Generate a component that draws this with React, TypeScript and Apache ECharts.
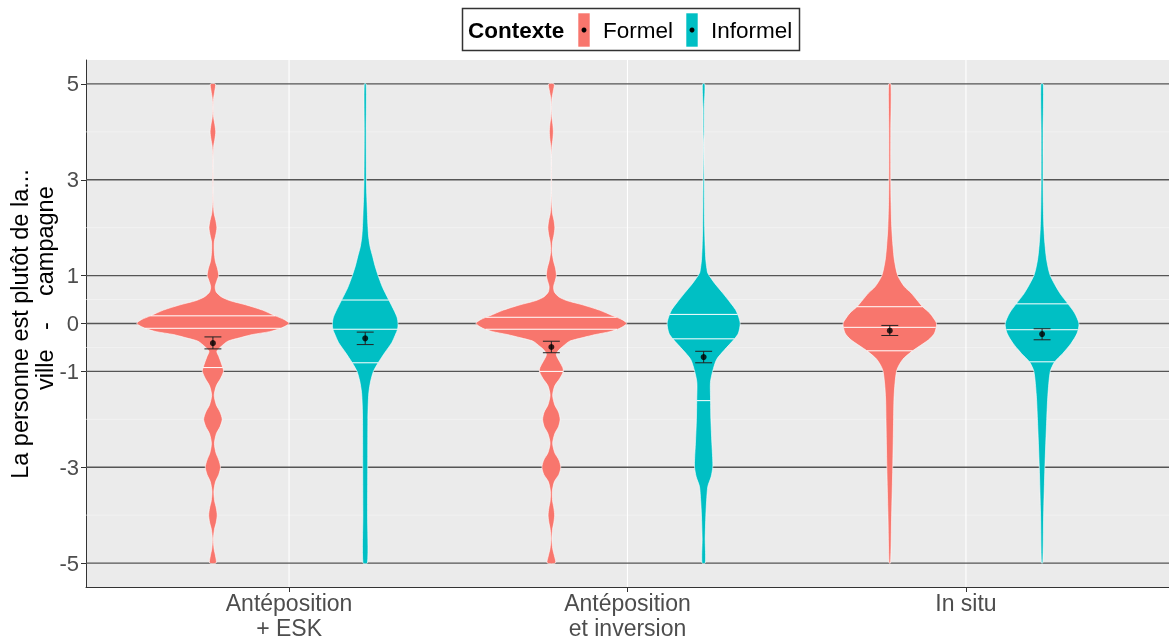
import React, { useEffect, useRef } from "react";
import * as echarts from "echarts";

const categories = ["Antéposition\n+ ESK", "Antéposition\net inversion", "In situ"];
const groupNames = ["Formel", "Informel"];
const groupColors = ["#F8766D", "#00BFC4"];
const yMajorBreaks = [-5, -3, -1, 0, 1, 3, 5];
const yMinorBreaks = [-4, -2, -0.5, 0.5, 2, 4];
const xBreaks = [1, 2, 3];

// density profiles: [y, relative width] (100 = widest violin)
const formelDensityESK = [
  [-5, 4.3], [-4.85, 3.4], [-4.7, 1.5], [-4.5, 0.7], [-4.3, 2], [-4.15, 4.4], [-4, 5.6], [-3.85, 4.4], [-3.7, 2.2],
  [-3.5, 1.3], [-3.3, 3.5], [-3.15, 7.8], [-3, 10], [-2.85, 7.8], [-2.7, 4], [-2.5, 2], [-2.3, 4.5], [-2.15, 9.5],
  [-2, 12.2], [-1.85, 9.5], [-1.7, 4.5], [-1.5, 1.7], [-1.3, 4.5], [-1.15, 10], [-1, 14], [-0.95, 13.5], [-0.82, 10.8],
  [-0.69, 7.8], [-0.58, 5.2], [-0.48, 10.8], [-0.37, 19.6], [-0.3, 35], [-0.23, 52], [-0.17, 74.5], [-0.1, 89], [0, 100],
  [0.08, 94], [0.16, 82], [0.28, 65], [0.39, 43], [0.48, 21.8], [0.56, 10.8], [0.66, 4.3], [0.77, 3], [0.91, 5.6],
  [1, 7.6], [1.15, 6], [1.3, 3.2], [1.5, 1.8], [1.7, 1.8], [1.85, 3.8], [2, 5.2], [2.15, 3.8], [2.3, 1.6], [2.5, 0.6],
  [2.75, 0.2], [3, 0.4], [3.25, 0.2], [3.5, 0.3], [3.7, 1], [3.85, 2.6], [4, 3.7], [4.15, 2.6], [4.3, 1], [4.5, 0.3],
  [4.7, 0.9], [4.85, 2.4], [5, 3.3],
];
const formelDensityInv = [
  [-5, 5.5], [-4.85, 4], [-4.7, 1.8], [-4.5, 0.7], [-4.3, 1.5], [-4.15, 3.3], [-4, 4.3], [-3.85, 3.3], [-3.7, 1.6],
  [-3.5, 1.3], [-3.3, 4], [-3.15, 10], [-3, 12.4], [-2.85, 10], [-2.7, 4.5], [-2.5, 1.7], [-2.3, 4.5], [-2.15, 9.5],
  [-2, 11.5], [-1.85, 9.5], [-1.7, 4.5], [-1.5, 1.7], [-1.3, 4.5], [-1.15, 11], [-1, 15.7], [-0.92, 15], [-0.8, 11],
  [-0.65, 6.5], [-0.55, 10], [-0.48, 15], [-0.37, 24], [-0.3, 40], [-0.23, 58], [-0.17, 77], [-0.1, 90], [0, 99],
  [0.08, 93], [0.16, 81], [0.28, 63], [0.39, 41], [0.48, 20], [0.56, 9.5], [0.66, 4], [0.77, 3], [0.9, 5.2],
  [1, 6.6], [1.15, 5.5], [1.3, 3], [1.5, 1], [1.7, 1.6], [1.85, 3.5], [2, 4.6], [2.15, 3.5], [2.3, 1.5], [2.5, 0.6],
  [2.75, 0.2], [3, 0.3], [3.25, 0.2], [3.5, 0.2], [3.7, 0.8], [3.85, 2], [4, 2.6], [4.15, 2], [4.3, 0.8], [4.5, 0.3],
  [4.7, 0.8], [4.85, 2.5], [5, 3.7],
];
const formelDensitySitu = [
  [-5, 1], [-4, 2.4], [-3, 3.9], [-2, 5], [-1.58, 5.5], [-1.24, 6.9], [-0.96, 9.5], [-0.75, 17], [-0.57, 30],
  [-0.34, 51], [-0.2, 58.8], [0, 61.4], [0.11, 57.5], [0.22, 52.3], [0.35, 43.1], [0.49, 35.7], [0.64, 27.8],
  [0.77, 19.2], [1, 10.5], [1.32, 6.1], [1.6, 4.3], [2, 2.6], [2.5, 1.7], [3, 1.3], [4, 1.3], [5, 1.6],
];
const informelDensityESK = [
  [-5, 3], [-4, 3.1], [-3, 3.3], [-2, 3.5], [-1.7, 3.9], [-1.44, 4.8], [-1.2, 7.2], [-1, 10.8], [-0.82, 17],
  [-0.6, 26.1], [-0.4, 34.9], [-0.25, 39.2], [-0.12, 42.5], [0, 43.1], [0.12, 42], [0.25, 38.6], [0.5, 30.7],
  [0.75, 22.9], [1, 17], [1.2, 13], [1.4, 9.8], [1.6, 6.5], [1.8, 4.6], [2, 3.7], [2.3, 2.9], [2.7, 2], [3, 1.6],
  [4, 1.3], [5, 1.3],
];
const informelDensityInv = [
  [-5, 2.2], [-4.5, 2], [-4, 2.9], [-3.7, 3.9], [-3.4, 5.5], [-3.2, 9.8], [-3, 12], [-2.8, 11.8], [-2.5, 10.8],
  [-2, 9.5], [-1.6, 9.1], [-1.23, 8.9], [-1, 11.8], [-0.75, 17], [-0.55, 27.4], [-0.32, 40.5], [-0.2, 45.7], [0, 48],
  [0.15, 45.7], [0.29, 41.8], [0.43, 35.3], [0.64, 24.8], [0.84, 14.4], [1.05, 5.5], [1.15, 4.2], [1.32, 2.9],
  [1.6, 2], [2, 1.3], [2.5, 1], [3, 0.8], [3.5, 0.4], [3.75, 0.3], [4, 0.7], [4.5, 0.8], [5, 1.6],
];
const informelDensitySitu = [
  [-5, 0.9], [-4, 2], [-3, 3.7], [-2, 6.1], [-1.5, 7.6], [-1, 10.8], [-0.8, 16.6], [-0.62, 27.4], [-0.41, 38.3],
  [-0.2, 46.1], [0, 48.4], [0.22, 42.7], [0.41, 34], [0.64, 23.1], [1, 10.8], [1.32, 6.1], [1.67, 3.7], [2, 2.4],
  [2.5, 1.6], [3, 1.3], [4, 1.3], [5, 1.6],
];

// quantiles drawn inside the violins (25%, 50%, 75%)
const formelQuantiles = [[-0.92, -0.1, 0.16], [-1.0, -0.12, 0.13], [-0.57, -0.08, 0.35]];
const informelQuantiles = [[-0.82, -0.12, 0.49], [-1.61, -0.32, 0.19], [-0.8, -0.13, 0.41]];

// means with error bars
const formelMeans = [-0.41, -0.49, -0.15];
const formelLow = [-0.53, -0.61, -0.25];
const formelHigh = [-0.28, -0.37, -0.04];
const informelMeans = [-0.31, -0.7, -0.22];
const informelLow = [-0.44, -0.82, -0.34];
const informelHigh = [-0.18, -0.58, -0.11];

const densities = [
  [formelDensityESK, formelDensityInv, formelDensitySitu],
  [informelDensityESK, informelDensityInv, informelDensitySitu],
];
const quantiles = [formelQuantiles, informelQuantiles];
const means = [formelMeans, informelMeans];
const lows = [formelLow, informelLow];
const highs = [formelHigh, informelHigh];

const FONT = "'Liberation Sans', Arial, Helvetica, sans-serif";
const HALF = 0.225; // dodge half-width
const CAP = 0.025;

function interp(dens: number[][], y: number): number {
  for (let i = 0; i < dens.length - 1; i++) {
    const [y0, d0] = dens[i];
    const [y1, d1] = dens[i + 1];
    if (y >= y0 && y <= y1) return d0 + ((d1 - d0) * (y - y0)) / (y1 - y0);
  }
  return 0;
}

function groupX(ci: number, gi: number) {
  return ci + 1 + (gi === 0 ? -HALF : HALF);
}

export default function App() {
  const ref = useRef<HTMLDivElement>(null);
  useEffect(() => {
    document.body.style.margin = "0";
    const chart = echarts.init(ref.current!, null, { renderer: "svg" });

    const gridSeries = (values: number[], color: string, width: number, dir: "h" | "v") => ({
      type: "custom",
      silent: true,
      z: 1,
      data: values.map((v) => (dir === "h" ? [2, v] : [v, 0])),
      renderItem: (params: any, api: any) => {
        const v = dir === "h" ? api.value(1) : api.value(0);
        const p1 = dir === "h" ? api.coord([0.4, v]) : api.coord([v, -5.5]);
        const p2 = dir === "h" ? api.coord([3.6, v]) : api.coord([v, 5.5]);
        return {
          type: "line",
          shape: { x1: p1[0], y1: p1[1], x2: p2[0], y2: p2[1] },
          style: { stroke: color, lineWidth: width },
        };
      },
    });

    const violinSeries = (gi: number) => ({
      type: "custom",
      name: groupNames[gi],
      silent: true,
      z: 3,
      data: [0, 1, 2].map((ci) => [groupX(ci, gi), 0, ci]),
      renderItem: (params: any, api: any) => {
        const ci = api.value(2);
        const dens = densities[gi][ci];
        const cx = groupX(ci, gi);
        const right = dens.map(([y, d]) => api.coord([cx + (d / 100) * HALF, y]));
        const left = dens
          .slice()
          .reverse()
          .map(([y, d]) => api.coord([cx - (d / 100) * HALF, y]));
        const children: any[] = [
          {
            type: "polygon",
            shape: { points: right.concat(left), smooth: 0.25 },
            style: { fill: groupColors[gi], stroke: "#ffffff", lineWidth: 0.6 },
          },
        ];
        quantiles[gi][ci].forEach((q) => {
          const d = interp(dens, q);
          const a = api.coord([cx - (d / 100) * HALF, q]);
          const b = api.coord([cx + (d / 100) * HALF, q]);
          children.push({
            type: "line",
            shape: { x1: a[0], y1: a[1], x2: b[0], y2: b[1] },
            style: { stroke: "#ffffff", lineWidth: 1 },
          });
        });
        return { type: "group", children };
      },
    });

    const errorSeries = (gi: number) => ({
      type: "custom",
      silent: true,
      z: 4,
      data: [0, 1, 2].map((ci) => [groupX(ci, gi), means[gi][ci], lows[gi][ci], highs[gi][ci]]),
      renderItem: (params: any, api: any) => {
        const x = api.value(0);
        const lo = api.value(2);
        const hi = api.value(3);
        const a = api.coord([x, lo]);
        const b = api.coord([x, hi]);
        const l1 = api.coord([x - CAP, lo]);
        const r1 = api.coord([x + CAP, lo]);
        const l2 = api.coord([x - CAP, hi]);
        const r2 = api.coord([x + CAP, hi]);
        const st = { stroke: "#222222", lineWidth: 1 };
        return {
          type: "group",
          children: [
            { type: "line", shape: { x1: a[0], y1: a[1], x2: b[0], y2: b[1] }, style: st },
            { type: "line", shape: { x1: l1[0], y1: l1[1], x2: r1[0], y2: r1[1] }, style: st },
            { type: "line", shape: { x1: l2[0], y1: l2[1], x2: r2[0], y2: r2[1] }, style: st },
          ],
        };
      },
    });

    const pointSeries = (gi: number) => ({
      type: "scatter",
      silent: true,
      z: 5,
      symbol: "circle",
      symbolSize: 6,
      itemStyle: { color: "#000000" },
      data: [0, 1, 2].map((ci) => [groupX(ci, gi), means[gi][ci]]),
    });

    const legendX = 462;
    const legend = [
      {
        type: "rect",
        shape: { x: legendX + 0.5, y: 8.5, width: 337, height: 42 },
        style: { fill: "#ffffff", stroke: "#333333", lineWidth: 1.5 },
      },
      {
        type: "text",
        x: legendX + 6,
        y: 30,
        style: { text: "Contexte", font: `bold 22.5px ${FONT}`, fill: "#000000", textVerticalAlign: "middle" },
      },
      ...[0, 1].flatMap((gi) => {
        const kx = gi === 0 ? 578 : 686;
        return [
          { type: "rect", shape: { x: kx, y: 13, width: 12, height: 34 }, style: { fill: groupColors[gi], stroke: "#ffffff", lineWidth: 0.6 } },
          { type: "circle", shape: { cx: kx + 6, cy: 30, r: 2.5 }, style: { fill: "#000000" } },
          {
            type: "text",
            x: kx + 25,
            y: 30,
            style: { text: groupNames[gi], font: `22.5px ${FONT}`, fill: "#000000", textVerticalAlign: "middle" },
          },
        ];
      }),
    ];

    const yTitle = [
      {
        type: "text",
        x: 20,
        y: 324,
        rotation: Math.PI / 2,
        style: {
          text: "La personne est plutôt de la...",
          font: `23.5px ${FONT}`,
          fill: "#000000",
          textAlign: "center",
          textVerticalAlign: "middle",
        },
      },
      {
        type: "text",
        x: 45,
        y: 390,
        rotation: Math.PI / 2,
        style: {
          text: "ville   -    campagne",
          font: `23.5px ${FONT}`,
          fill: "#000000",
          textAlign: "left",
          textVerticalAlign: "middle",
        },
      },
    ];

    chart.setOption({
      animation: false,
      grid: {
        left: 86,
        right: 0,
        top: 60,
        bottom: 51,
        show: true,
        backgroundColor: "#EBEBEB",
        borderWidth: 0,
      },
      xAxis: {
        type: "value",
        min: 0.4,
        max: 3.6,
        splitLine: { show: false },
        axisLine: { show: true, onZero: false, lineStyle: { color: "#333333", width: 1 } },
        axisTick: { show: true, customValues: xBreaks, length: 5, lineStyle: { color: "#333333" } },
        axisLabel: {
          customValues: xBreaks,
          formatter: (v: number) => categories[Math.round(v) - 1] ?? "",
          color: "#4D4D4D",
          fontSize: 23,
          lineHeight: 25,
          fontFamily: FONT,
          margin: 3,
        },
      },
      yAxis: {
        type: "value",
        min: -5.5,
        max: 5.5,
        splitLine: { show: false },
        axisLine: { show: true, onZero: false, lineStyle: { color: "#333333", width: 1 } },
        axisTick: { show: true, customValues: yMajorBreaks, length: 5, lineStyle: { color: "#333333" } },
        axisLabel: {
          customValues: yMajorBreaks,
          color: "#4D4D4D",
          fontSize: 22,
          fontFamily: FONT,
          margin: 7,
        },
      },
      graphic: [...legend, ...yTitle],
      series: [
        gridSeries(yMinorBreaks, "#F7F7F7", 0.6, "h"),
        gridSeries(xBreaks, "#FFFFFF", 1.1, "v"),
        gridSeries(yMajorBreaks, "#555555", 1.3, "h"),
        violinSeries(0),
        violinSeries(1),
        errorSeries(0),
        errorSeries(1),
        pointSeries(0),
        pointSeries(1),
      ],
    });
    return () => chart.dispose();
  }, []);
  return <div ref={ref} style={{ position: "fixed", left: 0, top: 0, width: 1169, height: 640 }} />;
}
